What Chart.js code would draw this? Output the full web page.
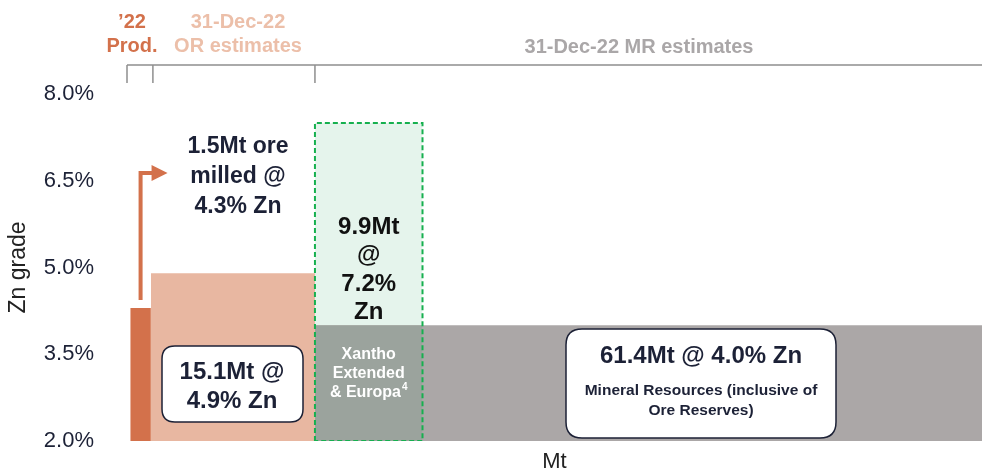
<!DOCTYPE html>
<html>
<head>
<meta charset="utf-8">
<script src="https://cdn.jsdelivr.net/npm/chart.js@4/dist/chart.umd.min.js"></script>
<style>
  html, body { margin: 0; padding: 0; background: #fff; }
  #wrap { width: 982px; height: 472px; position: relative; }
</style>
</head>
<body>
<div id="wrap"><canvas id="zinc"></canvas></div>
<script>
// segments along the Mt axis, widths as drawn in the picture
const segmentNames = ["'22 Prod.", "31-Dec-22 OR estimates", "31-Dec-22 MR estimates"];
const widthMt = [1.9, 15.1, 61.4];
const gradePct = [4.3, 4.9, 4.0];
const segmentColors = ['#d3714b', '#e8b7a1', '#aba7a7'];

// Xantho Extended & Europa overlay (sits at the start of the MR block)
const xanthoWidthMt = 9.9;
const xanthoTopPct = 7.5;

const yTicks = [2.0, 3.5, 5.0, 6.5, 8.0];
const yMin = 2.0, yMax = 8.0;

const DARK = '#1c2136';
const FONT = '"Liberation Sans", Arial, sans-serif';

// cumulative edges
const edges = [0];
widthMt.forEach(w => edges.push(edges[edges.length - 1] + w));
const xanthoStart = edges[2];
const xanthoEnd = xanthoStart + xanthoWidthMt;

function rect(x0, x1, top, base, color) {
  return {
    data: [{ x: x0, y: top }, { x: x1, y: top }],
    showLine: true,
    fill: { value: base },
    backgroundColor: color,
    borderColor: 'transparent',
    borderWidth: 0,
    pointRadius: 0,
    tension: 0
  };
}

const datasets = [];
// dashed outline on top
datasets.push({
  data: [
    { x: xanthoStart, y: yMin }, { x: xanthoStart, y: xanthoTopPct },
    { x: xanthoEnd, y: xanthoTopPct }, { x: xanthoEnd, y: yMin }, { x: xanthoStart, y: yMin }
  ],
  showLine: true,
  fill: false,
  borderColor: '#16b04f',
  borderWidth: 2,
  borderDash: [5, 3],
  pointRadius: 0,
  tension: 0
});
datasets.push(rect(xanthoStart, xanthoEnd, gradePct[2], yMin, '#9ba39d'));
datasets.push(rect(xanthoStart, xanthoEnd, xanthoTopPct, gradePct[2], '#e5f4ec'));
widthMt.forEach((w, i) => {
  datasets.push(rect(edges[i], edges[i + 1], gradePct[i], yMin, segmentColors[i]));
});

function roundBox(ctx, x, y, w, h, r) {
  ctx.beginPath();
  ctx.moveTo(x + r, y);
  ctx.lineTo(x + w - r, y);
  ctx.quadraticCurveTo(x + w, y, x + w, y + r);
  ctx.lineTo(x + w, y + h - r);
  ctx.quadraticCurveTo(x + w, y + h, x + w - r, y + h);
  ctx.lineTo(x + r, y + h);
  ctx.quadraticCurveTo(x, y + h, x, y + h - r);
  ctx.lineTo(x, y + r);
  ctx.quadraticCurveTo(x, y, x + r, y);
  ctx.closePath();
  ctx.fillStyle = '#fff';
  ctx.fill();
  ctx.lineWidth = 1.5;
  ctx.strokeStyle = DARK;
  ctx.stroke();
}

function lines(ctx, texts, cx, y0, lh, font, color) {
  ctx.font = font;
  ctx.fillStyle = color;
  ctx.textAlign = 'center';
  ctx.textBaseline = 'middle';
  texts.forEach((t, i) => ctx.fillText(t, cx, y0 + i * lh));
}

const annotations = {
  id: 'annotations',
  afterDatasetsDraw(chart) {
    const ctx = chart.ctx;
    const xs = chart.scales.x, ys = chart.scales.y;
    ctx.save();

    // bracket above the plot
    const lineY = 65;
    ctx.strokeStyle = '#8f8f8f';
    ctx.lineWidth = 1.5;
    ctx.beginPath();
    ctx.moveTo(xs.left, lineY);
    ctx.lineTo(xs.right, lineY);
    [xs.left, xs.getPixelForValue(edges[1]) + 2, xs.getPixelForValue(edges[2])].forEach(px => {
      ctx.moveTo(px, lineY);
      ctx.lineTo(px, 83);
    });
    ctx.stroke();

    // headers
    lines(ctx, ["\u201922", "Prod."], 132, 22, 24, 'bold 20px ' + FONT, '#d3714b');
    lines(ctx, ["31-Dec-22", "OR estimates"], 238, 22, 24, 'bold 20px ' + FONT, '#ecbfa9');
    lines(ctx, ["31-Dec-22 MR estimates"], 639, 47, 24, 'bold 20px ' + FONT, '#aaa7a8');

    // production arrow
    const ax = xs.getPixelForValue(edges[1] / 2);
    const ayTop = 173;
    ctx.strokeStyle = '#d3714b';
    ctx.fillStyle = '#d3714b';
    ctx.lineWidth = 4;
    ctx.beginPath();
    ctx.moveTo(ax, ys.getPixelForValue(gradePct[0]) - 8);
    ctx.lineTo(ax, ayTop);
    ctx.lineTo(ax + 12, ayTop);
    ctx.stroke();
    ctx.beginPath();
    ctx.moveTo(ax + 11, ayTop - 8);
    ctx.lineTo(ax + 27, ayTop);
    ctx.lineTo(ax + 11, ayTop + 8);
    ctx.closePath();
    ctx.fill();

    lines(ctx, ["1.5Mt ore", "milled @", "4.3% Zn"], 238, 147, 30, 'bold 23px ' + FONT, DARK);

    // Xantho texts
    const xc = (xs.getPixelForValue(xanthoStart) + xs.getPixelForValue(xanthoEnd)) / 2;
    lines(ctx, ["9.9Mt", "@", "7.2%", "Zn"], xc, 227, 28.5, 'bold 24px ' + FONT, '#111');
    lines(ctx, ["Xantho", "Extended"], xc, 355, 19, 'bold 16px ' + FONT, '#fff');
    ctx.font = 'bold 16px ' + FONT;
    const w1 = ctx.measureText('& Europa').width;
    ctx.font = 'bold 10px ' + FONT;
    const w2 = ctx.measureText('4').width;
    const sx = xc - (w1 + w2 + 1) / 2;
    ctx.textAlign = 'left';
    ctx.font = 'bold 16px ' + FONT;
    ctx.fillText('& Europa', sx, 393);
    ctx.font = 'bold 10px ' + FONT;
    ctx.fillText('4', sx + w1 + 1, 387);

    // OR box
    roundBox(ctx, 162, 346, 141, 76, 13);
    lines(ctx, ["15.1Mt @", "4.9% Zn"], 232, 372, 29, 'bold 24px ' + FONT, DARK);

    // MR box
    roundBox(ctx, 566, 329, 270, 109, 16);
    lines(ctx, ["61.4Mt @ 4.0% Zn"], 701, 356, 0, 'bold 24px ' + FONT, DARK);
    lines(ctx, ["Mineral Resources (inclusive of", "Ore Reserves)"], 701, 391, 20, 'bold 15.5px ' + FONT, DARK);

    ctx.restore();
  }
};

new Chart(document.getElementById('zinc'), {
  type: 'scatter',
  data: { datasets },
  options: {
    responsive: true,
    maintainAspectRatio: false,
    animation: false,
    events: [],
    layout: { padding: { top: 94, right: 0, bottom: 0, left: 0 } },
    plugins: {
      legend: { display: false },
      tooltip: { enabled: false }
    },
    scales: {
      x: {
        type: 'linear',
        min: -0.3,
        max: edges[3],
        grid: { display: false, drawTicks: false },
        border: { display: false },
        ticks: { display: false },
        title: {
          display: true,
          text: 'Mt',
          color: '#222',
          font: { family: FONT, size: 22 },
          padding: { top: 0, bottom: -3 }
        },
        afterFit(scale) { scale.height = 31; }
      },
      y: {
        min: yMin,
        max: yMax,
        // tick marks hidden, their length only pushes the labels left
        grid: { display: false, drawTicks: true, tickLength: 33 },
        border: { display: false },
        afterBuildTicks(scale) { scale.ticks = yTicks.map(v => ({ value: v })); },
        ticks: {
          padding: 0,
          color: DARK,
          font: { family: FONT, size: 22 },
          callback: v => v.toFixed(1) + '%'
        },
        title: {
          display: true,
          text: 'Zn grade',
          color: '#222',
          font: { family: FONT, size: 23 },
          padding: { top: 5, bottom: 0 }
        },
        afterFit(scale) { scale.width = 127; }
      }
    }
  },
  plugins: [annotations]
});
</script>
</body>
</html>
